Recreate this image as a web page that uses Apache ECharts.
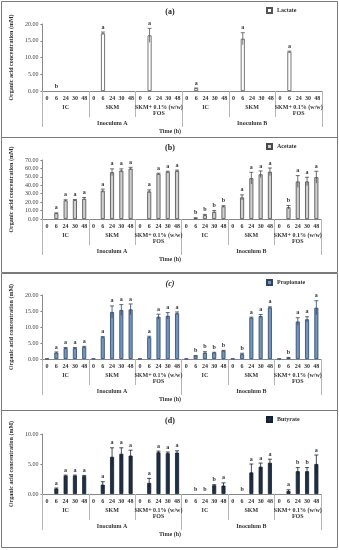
<!DOCTYPE html>
<html>
<head>
<meta charset="utf-8">
<script src="https://cdn.jsdelivr.net/npm/echarts@6/dist/echarts.min.js"></script>
<style>
html,body{margin:0;padding:0;background:#fff;}
#c{width:339px;height:550px;}
</style>
</head>
<body>
<div id="c"></div>
<script>
// ---------- data ----------
const times = ['0','6','24','30','48'];
const groups = ['IC','SKM','SKM+ 0.1% (w/w)\nFOS','IC','SKM','SKM+ 0.1% (w/w)\nFOS'];
const inocula = ['Inoculum A','Inoculum B'];
const yTitle = 'Organic acid concentration (mM)';
const xTitle = 'Time (h)';

// order: IC-A, SKM-A, FOS-A, IC-B, SKM-B, FOS-B ; each 0,6,24,30,48 h
const lactate    = [0,0,0,0,0,   0,17.2,0,0,0,   0,16.6,0,0,0,   0,0.8,0,0,0,   0,15.6,0,0,0,   0,11.7,0,0,0];
const lactateErr = [0,0,0,0,0,   0,0.4,0,0,0,    0,2.1,0,0,0,    0,0.1,0,0,0,   0,1.8,0,0,0,    0,0.2,0,0,0];
const lactateSig = ['','b','','','',  '','a','','','',  '','a','','','',  '','a','','','',  '','a','','','',  '','a','','',''];

const acetate    = [0,6.8,22,22.5,24,   0,33.5,55.5,57.5,59.8,   0,32.7,53.5,55.9,57,   0,1.2,4.5,8.5,15,   0,25.6,48.4,53,56,   0,14,44.5,44.5,49.6];
const acetateErr = [0,0.5,0.8,0.6,1.5,  0,2,4,2,1.5,             0,1.8,0.8,0.8,1,      0,0.3,1,1.5,0.8,    0,3,7,4,4.5,         0,2,7,5,7];
const acetateSig = ['','a','a','a','a',  '','a','a','a','a',  '','a','a','a','a',  '','b','b','b','b',  '','a','a','a','a',  '','b','a','a','a'];

const propionate    = [0.1,2.0,3.4,3.4,3.75,  0.1,6.8,14.7,15.3,15.5,  0.1,6.8,13.2,13.5,14.3,  0.1,1.0,2.0,2.0,2.6,  0.1,1.5,12.9,13.4,16.1,  0.1,0.4,11.7,12.4,16.0];
const propionateErr = [0,0.2,0.2,0.2,0.2,     0,0.2,1.9,1.7,1.7,       0,0.3,0.8,1.0,0.4,       0,0.1,0.3,0.1,0.1,    0,0.3,0.2,0.5,0.2,       0,0.1,1.2,0.8,2.2];
const propionateSig = ['','a','a','a','a',  '','a','a','a','a',  '','a','a','a','a',  '','b','b','b','b',  '','b','a','a','a',  '','b','a','a','a'];

const butyrate    = [0,0.9,3.05,3.05,3.0,  0,1.55,6.2,6.7,6.4,  0,1.85,6.95,6.8,6.9,  0,0,0,1.45,1.4,  0,0,3.6,4.55,5.2,  0,0.5,3.8,3.8,5.0];
const butyrateErr = [0,0.1,0.1,0.1,0.1,    0,0.5,1.5,1.0,0.9,   0,0.75,0.2,0.2,0.3,   0,0,0,0.1,0.45,  0,0,1.4,0.6,0.6,  0,0.2,0.6,0.6,1.5];
const butyrateSig = ['','a','a','a','a',  '','a','a','a','a',  '','a','a','a','a',  '','b','b','b','a',  '','b','a','a','a',  '','a','b','b','a'];

// ---------- layout / style ----------
const FONT = '"Liberation Serif", "Times New Roman", serif';
const panels = [
  {tag:'(a)', italic:false, name:'Lactate', vals:lactate, errs:lactateErr, sigs:lactateSig, max:20, step:5,
   fill:'#ffffff', border:'#555555', err:'#555555',
   box:[1,1,336,136], grid:{left:31, top:24, width:291, height:67}},
  {tag:'(b)', italic:false, name:'Acetate', vals:acetate, errs:acetateErr, sigs:acetateSig, max:70, step:10,
   fill:'#cfcfcf', border:'#4a4a4a', err:'#4a4a4a',
   box:[1,137,336,135], grid:{left:35, top:160, width:286, height:59}},
  {tag:'(c)', italic:true, name:'Propionate', vals:propionate, errs:propionateErr, sigs:propionateSig, max:20, step:5,
   fill:'#7394bb', border:'#2c4566', err:'#2c4566',
   box:[1,273,336,137], grid:{left:35, top:295, width:286, height:64}},
  {tag:'(d)', italic:false, name:'Butyrate', vals:butyrate, errs:butyrateErr, sigs:butyrateSig, max:10, step:5,
   fill:'#1f2f46', border:'#15202f', err:'#15202f',
   box:[1,410,336,137], grid:{left:36, top:434, width:285, height:60}}
];

const catKeys = [];
groups.forEach((g,gi)=>times.forEach(t=>catKeys.push(gi+'|'+t)));
const groupKeys = groups.map((g,i)=>i+'|'+g);
const inocKeys = inocula.map((g,i)=>i+'|'+g);
const strip = v => v.substring(v.indexOf('|')+1);

function makeRender(p){
  return function(params, api){
    const i = params.dataIndex;
    const v = p.vals[i], e = p.errs[i];
    const c = api.coord([i, v]);
    const top = api.coord([i, v+e]);
    const low = api.coord([i, Math.max(v-e,0)]);
    const ch = [];
    if (e > 0){
      ch.push({type:'line', shape:{x1:c[0],y1:low[1],x2:c[0],y2:top[1]}, style:{stroke:p.err, lineWidth:0.8}});
      ch.push({type:'line', shape:{x1:c[0]-2,y1:top[1],x2:c[0]+2,y2:top[1]}, style:{stroke:p.err, lineWidth:0.8}});
    }
    if (p.sigs[i]){
      ch.push({type:'text', style:{text:p.sigs[i], x:c[0], y:top[1]-2, align:'center', verticalAlign:'bottom',
        font:'bold 6px '+FONT, fill:'#333'}});
    }
    return {type:'group', children:ch};
  };
}

const grid=[], xAxis=[], yAxis=[], series=[], legend=[], graphic=[];
panels.forEach((p,k)=>{
  grid.push(Object.assign({containLabel:false}, p.grid));
  const axisBottom = p.grid.top + p.grid.height;
  xAxis.push({gridIndex:k, type:'category', data:catKeys, position:'bottom',
    axisLine:{show:true, lineStyle:{color:'#888', width:1}},
    axisTick:{show:false},
    axisLabel:{interval:0, margin:4, fontSize:6, fontWeight:'bold', fontFamily:FONT, color:'#333', formatter:strip}});
  xAxis.push({gridIndex:k, type:'category', data:groupKeys, position:'bottom',
    axisLine:{show:false},
    axisTick:{show:true, interval:0, length:26, lineStyle:{color:'#b5b5b5', width:1}},
    axisLabel:{interval:0, margin:13, fontSize:6, lineHeight:6, fontWeight:'bold', fontFamily:FONT, color:'#333', formatter:strip}});
  xAxis.push({gridIndex:k, type:'category', data:inocKeys, position:'bottom',
    axisLine:{show:false},
    axisTick:{show:true, interval:0, length:36, lineStyle:{color:'#b5b5b5', width:1}},
    axisLabel:{interval:0, margin:29, fontSize:6, fontWeight:'bold', fontFamily:FONT, color:'#333', formatter:strip}});
  yAxis.push({gridIndex:k, type:'value', min:0, max:p.max, interval:p.step,
    name:yTitle, nameLocation:'middle', nameGap:22,
    nameTextStyle:{fontSize:6, fontWeight:'bold', fontFamily:FONT, color:'#333'},
    axisLine:{show:true, lineStyle:{color:'#888', width:1}},
    axisTick:{show:true, length:2, lineStyle:{color:'#888'}},
    splitLine:{show:false},
    axisLabel:{fontSize:6, fontFamily:FONT, color:'#444', margin:4, formatter:v=>v.toFixed(2)}});
  series.push({type:'bar', name:p.name, xAxisIndex:3*k, yAxisIndex:k,
    data:p.vals.map(v => v === 0 ? '-' : v), barWidth:4,
    itemStyle:{color:p.fill, borderColor:p.border, borderWidth:0.8}, silent:true});
  series.push({type:'custom', xAxisIndex:3*k, yAxisIndex:k, data:p.vals.map((v,i)=>[i,v]),
    encode:{x:0,y:1}, renderItem:makeRender(p), silent:true, z:5, clip:false});
  legend.push({data:[p.name], left:266, top:p.box[1]+6, itemWidth:5, itemHeight:5, icon:'rect',
    textStyle:{fontSize:6, fontWeight:'bold', fontFamily:FONT, color:'#333'}, itemGap:2, padding:0, selectedMode:false});
  graphic.push({type:'rect', shape:{x:p.box[0]+0.5, y:p.box[1]+0.5, width:p.box[2], height:p.box[3]},
    style:{fill:'none', stroke:'#7a7a7a', lineWidth:1}, silent:true});
  graphic.push({type:'text', x:170, y:p.box[1]+11, style:{text:p.tag, align:'center', verticalAlign:'middle',
    font:(p.italic?'italic ':'')+'bold 8px '+FONT, fill:'#222'}});
  graphic.push({type:'text', x:170, y:axisBottom+40, style:{text:xTitle, align:'center', verticalAlign:'middle',
    font:'bold 6px '+FONT, fill:'#333'}});
});

const chart = echarts.init(document.getElementById('c'), null, {renderer:'canvas'});
chart.setOption({animation:false, backgroundColor:'#fff', grid, xAxis, yAxis, series, legend, graphic});
</script>
</body>
</html>
